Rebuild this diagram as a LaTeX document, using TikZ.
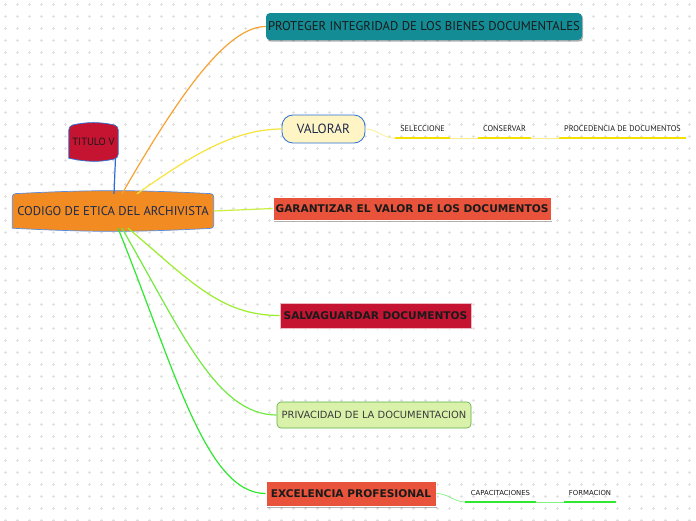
\documentclass[tikz,border=0pt]{standalone}
\usepackage{fontspec}
\setmainfont{PT Sans}
\newfontfamily\verd{DejaVu Sans}
\usetikzlibrary{shadows}

\definecolor{codcol}{HTML}{F28B22}
\definecolor{titcol}{HTML}{C41431}
\definecolor{procol}{HTML}{138C95}
\definecolor{valcol}{HTML}{FFF4C4}
\definecolor{garcol}{HTML}{E9533B}
\definecolor{pricol}{HTML}{D9F1A9}
\definecolor{bordblue}{HTML}{2A6FD8}
\definecolor{navy}{HTML}{1E2A4C}
\definecolor{inkcol}{HTML}{1A1A1A}
\definecolor{linorange}{HTML}{F7A234}
\definecolor{linyellow}{HTML}{F7E33A}
\definecolor{lingar}{HTML}{C9F03C}
\definecolor{linsal}{HTML}{9CEE2C}
\definecolor{linpri}{HTML}{72EA40}
\definecolor{linexc}{HTML}{30E830}
\definecolor{subyellow}{HTML}{F6E000}

\begin{document}
\begin{tikzpicture}[x=1pt,y=1pt,
  shad/.style={drop shadow={shadow xshift=1pt,shadow yshift=-1.5pt,opacity=0.3,fill=black}},
  bigtopic/.style={inner sep=0pt,text=inkcol,font=\verd\bfseries\fontsize{10.6}{12}\selectfont},
  subtopic/.style={inner sep=0pt,minimum height=18pt,text=inkcol},
  link/.style={line width=1.2pt}]
  \useasboundingbox (0,0) rectangle (696,-520);
  \fill[white] (0,0) rectangle (696,-520);
  % background crosses
  \foreach \i in {0,...,58}{
    \foreach \j in {0,...,43}{
      \draw[black!12,line width=0.5pt] (\i*12+5-1.5,-\j*12-4) -- ++(3,0) (\i*12+5,-\j*12-4-1.5) -- ++(0,3);
    }
  }

  % central topic
  \node[inner sep=0pt,minimum width=201pt,minimum height=34pt] (codigo) at (113,-211) {};
  \node[inner sep=0pt,minimum width=49pt,minimum height=32pt] (titulo) at (93.5,-142) {};

  % main topics
  \node[bigtopic,font=\fontsize{12.7}{14}\selectfont,fill=procol,rounded corners=4pt,minimum width=316pt,minimum height=27pt,shad] (proteger) at (424,-26.5) {PROTEGER INTEGRIDAD DE LOS BIENES DOCUMENTALES};
  \node[fill=valcol,draw=bordblue,line width=0.8pt,rounded corners=11pt,minimum width=83pt,minimum height=28pt,inner sep=0pt,text=navy,font=\fontsize{13.3}{15}\selectfont] (valorar) at (323.5,-129) {VALORAR};
  \node[bigtopic,fill=garcol,draw=white,line width=0.8pt,minimum width=278pt,minimum height=23pt,shad] (garantizar) at (412,-208.5) {GARANTIZAR EL VALOR DE LOS DOCUMENTOS};
  \node[bigtopic,fill=titcol,draw=titcol!30,line width=0.8pt,minimum width=191pt,minimum height=25pt] (salva) at (375.5,-315.5) {SALVAGUARDAR DOCUMENTOS};
  \node[inner sep=0pt,text=inkcol!85,font=\verd\fontsize{9.9}{11}\selectfont,fill=pricol,draw=pricol!60!green!70!black,line width=0.6pt,rounded corners=4pt,minimum width=194pt,minimum height=26pt] (privacidad) at (374,-415) {PRIVACIDAD DE LA DOCUMENTACION};
  \node[bigtopic,fill=garcol,draw=white,line width=0.8pt,minimum width=170pt,minimum height=25pt,shad] (excelencia) at (351,-493.5) {EXCELENCIA PROFESIONAL};

  % subtopics
  \node[subtopic,minimum width=55pt,font=\fontsize{8.2}{9}\selectfont] (seleccione) at (422.5,-129) {SELECCIONE};
  \node[subtopic,minimum width=53pt,font=\fontsize{8.2}{9}\selectfont] (conservar) at (504.5,-129) {CONSERVAR};
  \node[subtopic,minimum width=127pt,font=\fontsize{8.2}{9}\selectfont] (procedencia) at (622.5,-129) {PROCEDENCIA DE DOCUMENTOS};
  \node[subtopic,minimum width=70pt,font=\verd\fontsize{6.9}{8}\selectfont] (capacitaciones) at (500.5,-492.7) {CAPACITACIONES};
  \node[subtopic,minimum width=52pt,font=\verd\fontsize{6.9}{8}\selectfont] (formacion) at (590,-492.7) {FORMACION};

  % shapes of the two barrel nodes
  \filldraw[fill=codcol,draw=bordblue!80,line width=0.7pt,rounded corners=3pt]
    (codigo.south west) -- (codigo.north west) to[bend left=3] (codigo.north east)
    -- (codigo.south east) to[bend left=3] (codigo.south west);
  \node[inner sep=0pt,text=navy,font=\fontsize{12.7}{14}\selectfont] at (codigo) {CODIGO DE ETICA DEL ARCHIVISTA};
  \filldraw[fill=titcol,draw=bordblue,line width=0.7pt,rounded corners=4pt]
    (titulo.south west) -- (titulo.north west) to[bend left=12] (titulo.north east)
    -- (titulo.south east) to[bend left=12] (titulo.south west);
  \node[inner sep=0pt,text=inkcol,font=\fontsize{10.5}{12}\selectfont] at (titulo) {TITULO V};

  % branches
  \draw[bordblue,link] ([xshift=1pt]codigo.north) -- ([xshift=22pt]titulo.south);
  \draw[linorange,link] ([xshift=9pt]codigo.north) .. controls +(60:110) and +(180:40) .. (proteger.west);
  \draw[linyellow,link] ([xshift=24pt]codigo.north) .. controls +(35:60) and +(180:50) .. (valorar.west);
  \draw[lingar,link] (codigo.east) -- (garantizar.west);
  \draw[linsal,link] ([xshift=15pt]codigo.south) .. controls +(-40:80) and +(180:60) .. (salva.west);
  \draw[linpri,link] ([xshift=9pt]codigo.south) .. controls +(-60:120) and +(180:60) .. (privacidad.west);
  \draw[linexc,link] ([xshift=5pt]codigo.south) .. controls +(-68:150) and +(180:60) .. (excelencia.west);

  % sub branches
  \draw[linyellow!60,line width=0.7pt] (valorar.east) to[out=0,in=180] (seleccione.south west);
  \draw[linyellow!60,line width=0.7pt] (seleccione.south east) -- (conservar.south west)
    (conservar.south east) -- (procedencia.south west);
  \draw[subyellow,line width=1.8pt] (seleccione.south west) -- (seleccione.south east)
    (conservar.south west) -- (conservar.south east)
    (procedencia.south west) -- (procedencia.south east);
  \draw[linexc!60,line width=0.7pt] (excelencia.east) to[out=0,in=180] (capacitaciones.south west);
  \draw[linexc!60,line width=0.7pt] (capacitaciones.south east) -- (formacion.south west);
  \draw[linexc,line width=1.8pt] (capacitaciones.south west) -- (capacitaciones.south east)
    (formacion.south west) -- (formacion.south east);
\end{tikzpicture}
\end{document}
